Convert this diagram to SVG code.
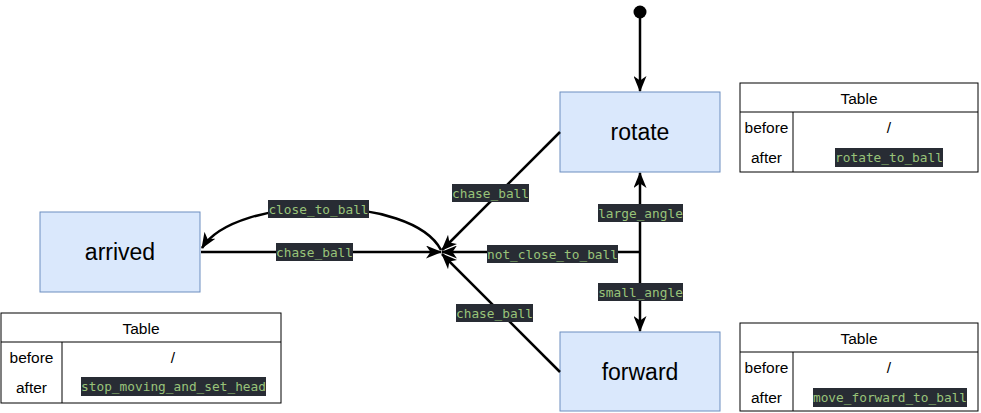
<svg xmlns="http://www.w3.org/2000/svg" width="981" height="413" viewBox="0 0 981 413">
<defs>
<marker id="arr" markerUnits="userSpaceOnUse" markerWidth="16" markerHeight="13" viewBox="0 0 16 13" refX="15" refY="6.5" orient="auto">
<path d="M0,0 L16,6.5 L0,13 L4.5,6.5 z" fill="#000"/>
</marker>
<style>
.node rect{fill:#dae8fc;stroke:#6c8ebf;stroke-width:1}
.node text{font-family:"Liberation Sans",Arial,sans-serif;font-size:23px;fill:#000;text-anchor:middle;dominant-baseline:central}
.edge{fill:none;stroke:#000;stroke-width:2.5}
.lbl rect{fill:#282c34}
.lbl text,.code{font-family:"DejaVu Sans Mono",monospace;font-size:12.8px;fill:#98c379;text-anchor:middle;dominant-baseline:central}
.tbl rect,.tbl line{fill:#fff;stroke:#000;stroke-width:1}
.tbl text.t{font-family:"Liberation Sans",Arial,sans-serif;font-size:15.5px;fill:#000;text-anchor:middle;dominant-baseline:central}
.tbl rect.hl{fill:#282c34;stroke:none}
</style>
</defs>
<rect width="981" height="413" fill="#fff"/>

<g id="start">
<circle cx="640" cy="12" r="6.5" fill="#000"/>
</g>
<g id="rotate" class="node">
<rect x="560" y="92" width="160" height="80"/>
<text x="640" y="132">rotate</text>
</g>
<g id="forward" class="node">
<rect x="560" y="332" width="160" height="79"/>
<text x="640" y="372">forward</text>
</g>
<g id="arrived" class="node">
<rect x="40" y="212" width="160" height="80"/>
<text x="120" y="252">arrived</text>
</g>

<g id="connectors">
<path class="edge" d="M640,18 L640,91" marker-end="url(#arr)"/>
<path class="edge" d="M560,132 L442,250" marker-end="url(#arr)"/>
<path class="edge" d="M560,372 L442,254" marker-end="url(#arr)"/>
<path class="edge" d="M640,252 L442,252" marker-end="url(#arr)"/>
<path class="edge" d="M640,252 L640,173" marker-end="url(#arr)"/>
<path class="edge" d="M640,252 L640,331" marker-end="url(#arr)"/>
<path class="edge" d="M201,252 L441,252" marker-end="url(#arr)"/>
<path class="edge" d="M441,250 C412,194 236,194 202,248" marker-end="url(#arr)"/>
<g class="lbl">
<rect x="452" y="184" width="77" height="18"/><text x="490.5" y="193">chase_ball</text>
<rect x="456" y="304" width="77" height="18"/><text x="494.5" y="313">chase_ball</text>
<rect x="487" y="245" width="131" height="18"/><text x="552.5" y="254">not_close_to_ball</text>
<rect x="598" y="204" width="85" height="18"/><text x="640.5" y="213">large_angle</text>
<rect x="598" y="283" width="85" height="18"/><text x="640.5" y="292">small_angle</text>
<rect x="276" y="243" width="77" height="18"/><text x="314.5" y="252">chase_ball</text>
<rect x="268" y="200" width="101" height="18"/><text x="318.5" y="209">close_to_ball</text>
</g>
</g>

<g id="table-rotate" class="tbl">
<rect x="740" y="83" width="238" height="89"/>
<line x1="740" y1="112" x2="978" y2="112"/>
<line x1="793" y1="112" x2="793" y2="172"/>
<text class="t" x="859" y="98">Table</text>
<text class="t" x="766.5" y="127">before</text>
<text class="t" x="766.5" y="157">after</text>
<text class="t" x="889" y="127">/</text>
<rect class="hl" x="835" y="148" width="108" height="19"/>
<text class="code" x="889" y="157.5">rotate_to_ball</text>
</g>

<g id="table-forward" class="tbl">
<rect x="740" y="323" width="238" height="88"/>
<line x1="740" y1="352" x2="978" y2="352"/>
<line x1="793" y1="352" x2="793" y2="411"/>
<text class="t" x="859" y="338">Table</text>
<text class="t" x="766.5" y="367">before</text>
<text class="t" x="766.5" y="397">after</text>
<text class="t" x="889" y="367">/</text>
<rect class="hl" x="813" y="388" width="154" height="19"/>
<text class="code" x="890" y="397.5">move_forward_to_ball</text>
</g>

<g id="table-arrived" class="tbl">
<rect x="1" y="313" width="280" height="90"/>
<line x1="1" y1="342" x2="281" y2="342"/>
<line x1="62" y1="342" x2="62" y2="403"/>
<text class="t" x="141" y="328">Table</text>
<text class="t" x="31.5" y="357">before</text>
<text class="t" x="31.5" y="387">after</text>
<text class="t" x="173" y="357">/</text>
<rect class="hl" x="81" y="377" width="185" height="19"/>
<text class="code" x="173.5" y="386.5">stop_moving_and_set_head</text>
</g>
</svg>
